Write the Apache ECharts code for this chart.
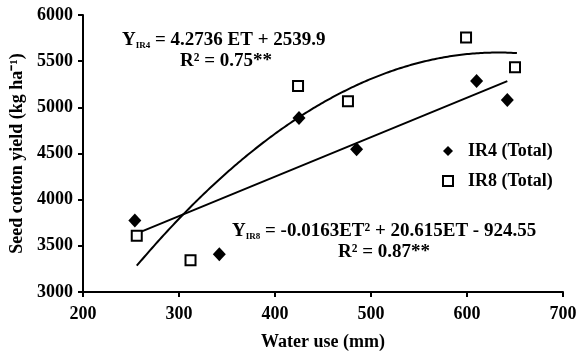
<!DOCTYPE html>
<html>
<head>
<meta charset="utf-8">
<script src="https://cdn.jsdelivr.net/npm/echarts@6/dist/echarts.min.js"></script>
<style>
  html, body { margin: 0; padding: 0; background: #fff; }
  #chart { width: 582px; height: 356px; }
</style>
</head>
<body>
<div id="chart"></div>
<script>
// measured points (water use mm, seed cotton yield kg/ha)
const ir4Water = [254, 342, 425, 485, 610, 642]
const ir4Yield = [3775, 3410, 4885, 4545, 5285, 5080]
const ir8Water = [256, 312, 424, 476, 599, 650]
const ir8Yield = [3610, 3345, 5230, 5065, 5755, 5435]

// regression coefficients shown on the chart
const ir4Linear = [4.2736, 2539.9]            // slope, intercept
const ir8Quad = [-0.0163, 20.615, -924.55]    // a, b, c
const ir4Range = [255, 642]
const ir8Range = [256, 652]

const xTicks = [200, 300, 400, 500, 600, 700]
const yTicks = [3000, 3500, 4000, 4500, 5000, 5500, 6000]

const FONT = 'Liberation Serif'

const linePts = ir4Range.map(x => [x, ir4Linear[0] * x + ir4Linear[1]])
const curvePts = []
for (let x = ir8Range[0]; x <= ir8Range[1]; x += 4) {
    curvePts.push([x, ir8Quad[0] * x * x + ir8Quad[1] * x + ir8Quad[2]])
}

const chart = echarts.init(document.getElementById('chart'), null, {renderer: 'canvas'})

const axisText = {color: '#000', fontFamily: FONT, fontSize: 18, fontWeight: 'bold'}
const richEq = {
    t: {color: '#000', fontFamily: FONT, fontSize: 19, fontWeight: 'bold'},
    s: {color: '#000', fontFamily: FONT, fontSize: 9, fontWeight: 'bold', padding: [10, 0, 0, 0]}
}

const option = {
    animation: false,
    backgroundColor: '#fff',
    grid: {left: 83, top: 15, width: 480, height: 280},
    xAxis: {
        type: 'value', min: xTicks[0], max: xTicks[xTicks.length - 1], interval: 100,
        name: 'Water use (mm)', nameLocation: 'middle', nameGap: 41,
        nameTextStyle: axisText,
        axisLine: {lineStyle: {color: '#000', width: 2}},
        axisTick: {show: true, length: 5, lineStyle: {color: '#000', width: 2}},
        axisLabel: Object.assign({margin: 13}, axisText),
        splitLine: {show: false}
    },
    yAxis: {
        type: 'value', min: yTicks[0], max: yTicks[yTicks.length - 1], interval: 500,
        name: 'Seed cotton yield (kg ha\u207B\u00B9)', nameLocation: 'middle', nameGap: 52,
        nameTextStyle: axisText,
        axisLine: {show: true, lineStyle: {color: '#000', width: 2}},
        axisTick: {show: true, length: 5, lineStyle: {color: '#000', width: 2}},
        axisLabel: Object.assign({margin: 10, formatter: v => String(v)}, axisText),
        splitLine: {show: false}
    },
    legend: {
        orient: 'vertical', left: 437, top: 137, itemGap: 12,
        itemWidth: 10, itemHeight: 10,
        textStyle: {color: '#000', fontFamily: FONT, fontSize: 18, fontWeight: 'bold', padding: [0, 0, 0, 10]},
        data: ['IR4 (Total)', 'IR8 (Total)']
    },
    series: [
        {
            name: 'IR4 fit', type: 'line', data: linePts, showSymbol: false, silent: true,
            lineStyle: {color: '#000', width: 2}, z: 1
        },
        {
            name: 'IR8 fit', type: 'line', data: curvePts, showSymbol: false, silent: true, smooth: true,
            lineStyle: {color: '#000', width: 2}, z: 1
        },
        {
            name: 'IR4 (Total)', type: 'scatter', symbol: 'diamond', symbolSize: [13, 14],
            data: ir4Water.map((x, i) => [x, ir4Yield[i]]),
            itemStyle: {color: '#000', opacity: 1}, z: 3
        },
        {
            name: 'IR8 (Total)', type: 'scatter', symbol: 'rect', symbolSize: 10,
            data: ir8Water.map((x, i) => [x, ir8Yield[i]]),
            itemStyle: {color: '#fff', borderColor: '#000', borderWidth: 2, opacity: 1}, z: 3
        }
    ],
    graphic: [
        {
            type: 'text', left: 122, top: 31,
            style: {text: '{t|Y}{s|IR4}{t| = 4.2736 ET + 2539.9}', rich: richEq}
        },
        {
            type: 'text', left: 180, top: 52,
            style: {text: '{t|R\u00B2 = 0.75**}', rich: richEq}
        },
        {
            type: 'text', left: 232, top: 222,
            style: {text: '{t|Y}{s|IR8}{t| = -0.0163ET\u00B2 + 20.615ET - 924.55}', rich: richEq}
        },
        {
            type: 'text', left: 338, top: 243,
            style: {text: '{t|R\u00B2 = 0.87**}', rich: richEq}
        }
    ]
}

chart.setOption(option)
</script>
</body>
</html>
